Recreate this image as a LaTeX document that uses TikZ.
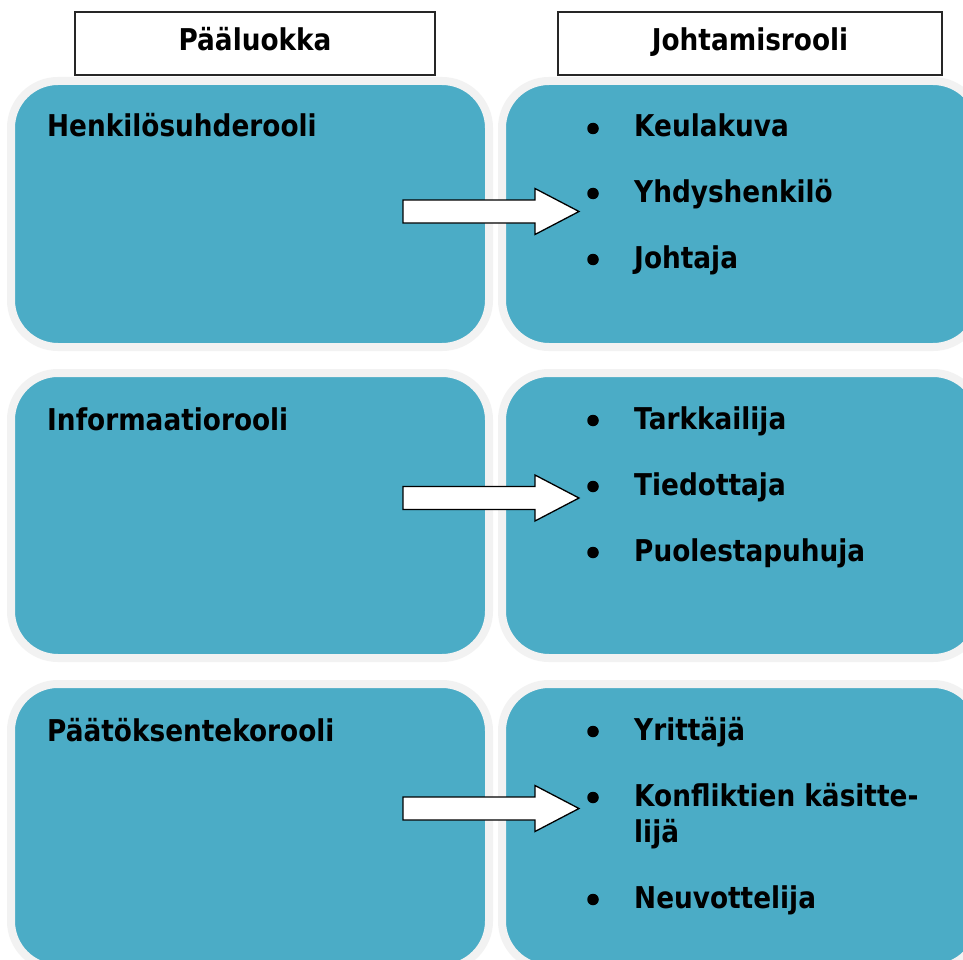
\documentclass[tikz,border=0pt]{standalone}
\usepackage{fontspec}
\setmainfont{DejaVu Sans}[FakeStretch=0.878]
\usetikzlibrary{positioning}
\definecolor{aqua}{HTML}{4BACC6}
\definecolor{rim}{HTML}{F2F2F2}

\begin{document}
\begin{tikzpicture}[x=1pt,y=-1pt,line join=miter,
	font=\fontsize{30}{36}\selectfont\bfseries,
	headbox/.style={draw=black!85,line width=1.3pt,fill=white,minimum height=63pt,
		text height=22pt,text depth=7pt,inner sep=0pt},
	panel/.style={draw=rim,fill=aqua,line width=8pt,rounded corners=47pt,
		minimum width=478pt,inner sep=0pt},
	lbl/.style={anchor=base west,inner sep=0pt},
	dot/.style={circle,fill=black,minimum size=11.5pt,inner sep=0pt},
	blockarrow/.style={draw=black,fill=white,line width=1.3pt}]
	\fill[white] (0,0) rectangle (963,960);
	\clip (0,0) rectangle (963,960);
	% otsikot
	\node[headbox,minimum width=360pt] (hL) at (255,43.5) {Pääluokka};
	\node[headbox,minimum width=384pt] (hR) at (750,43.5) {Johtamisrooli};
	% laatikot
	\node[panel,minimum height=266pt] (p1) at (250,214) {};
	\node[panel,minimum height=266pt] (q1) at (741,214) {};
	\node[panel,minimum height=285pt] (p2) at (250,515.5) {};
	\node[panel,minimum height=285pt] (q2) at (741,515.5) {};
	\node[panel,minimum height=284pt] (p3) at (250,826) {};
	\node[panel,minimum height=284pt] (q3) at (741,826) {};
	% nuolet
	\foreach \cy/\n in {211.5/1,498/2,808.5/3}{
		\coordinate (tail\n) at (403,\cy);
		\coordinate (tip\n) at (579,\cy);
		\draw[blockarrow] (tail\n) ++(0,-11.5) -- (535,\cy-11.5) -- (535,\cy-23)
			-- (tip\n) -- (535,\cy+23) -- (535,\cy+11.5) -- (403,\cy+11.5) -- cycle;
	}
	% pääluokat
	\node[lbl] (t1) at (47,137) {Henkilösuhderooli};
	\node[lbl] (t2) at (47,430) {Informaatiorooli};
	\node[lbl] (t3) at (47,741) {Päätöksentekorooli};
	% johtamisroolit
	\foreach \y/\txt/\n in {137/Keulakuva/a1,202/Yhdyshenkilö/a2,268/Johtaja/a3,
		429/Tarkkailija/b1,495/Tiedottaja/b2,561/Puolestapuhuja/b3,
		740/Yrittäjä/c1,806/Konfliktien käsitte-/c2,908/Neuvottelija/c3}{
		\node[dot] (d\n) at (593,\y-8.5) {};
		\node[lbl] (r\n) at (634,\y) {\txt};
	}
	\node[lbl] (rc2b) at (634,842) {lijä};
\end{tikzpicture}
\end{document}
